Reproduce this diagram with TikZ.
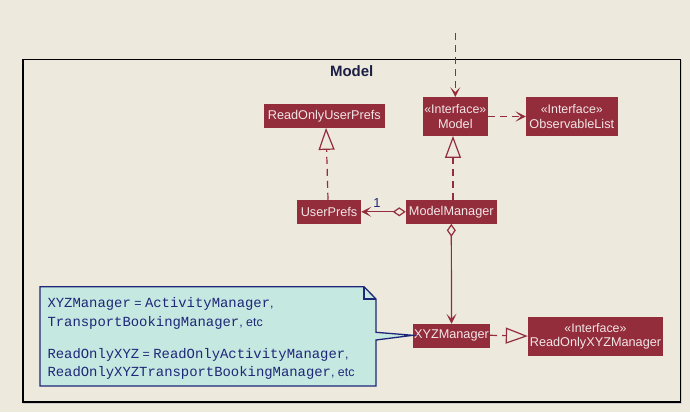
\documentclass[tikz,border=0pt]{standalone}
\usepackage{fontspec}
\setmainfont{Liberation Sans}
\newfontfamily\notemono{Liberation Mono}
\usetikzlibrary{arrows.meta}
\definecolor{bg}{HTML}{EDE9DC}
\definecolor{cls}{HTML}{932C3B}
\definecolor{clstext}{HTML}{F2E6E6}
\definecolor{notefill}{HTML}{C5E8E1}
\definecolor{navy}{HTML}{1F2778}
\definecolor{titlec}{HTML}{1B1F45}
\tikzset{
  classbox/.style={fill=cls, text=clstext, inner sep=0pt, align=center,
    font=\fontsize{12.7}{14.7}\selectfont},
  link/.style={draw=cls, line width=1.2pt},
  dashlink/.style={link, dash pattern=on 7pt off 5pt},
  vtip/.tip={Stealth[length=10pt,width=10pt,inset=5pt]},
  tri/.tip={Triangle[length=22pt,width=16pt,fill=bg]},
  dia/.tip={Diamond[length=13pt,width=9pt,fill=bg]},
  notetext/.style={anchor=base west, inner sep=0pt, text=navy,
    font=\fontsize{12.4}{14}\selectfont},
}
\newcommand{\iface}{{\fontsize{12.4}{14}\selectfont «Interface»}}
\begin{document}
\begin{tikzpicture}[x=1pt,y=-1pt]
\useasboundingbox (0,0) rectangle (690,412);
\fill[bg] (0,0) rectangle (690,412);
% package frame
\draw[gray!40, line width=1.5pt] (24,60.5) rectangle (681.5,403);
\draw[black, line width=1.6pt, fill=bg] (23,59.5) rectangle (680.5,402);
\node[font=\fontsize{15}{18}\selectfont\bfseries, text=titlec, inner sep=0pt] (title) at (351.7,71) {Model};
% classes
\node[classbox, minimum width=120.7pt, minimum height=23.7pt] (ROUP) at (324.3,115.8) {ReadOnlyUserPrefs};
\node[classbox, minimum width=64.7pt, minimum height=38.4pt] (Model) at (455.3,116.5) {\iface\\Model};
\node[classbox, minimum width=91.7pt, minimum height=38.4pt] (OL) at (571.8,116.5) {\iface\\ObservableList};
\node[classbox, minimum width=64pt, minimum height=23.7pt] (UP) at (329,211.8) {UserPrefs};
\node[classbox, minimum width=90.7pt, minimum height=23.7pt] (MM) at (451.3,211.8) {ModelManager};
\node[classbox, minimum width=77pt, minimum height=23.7pt] (XYZ) at (451.5,335.8) {XYZManager};
\node[classbox, minimum width=135pt, minimum height=38.7pt] (ROXYZ) at (595.5,336.3) {\iface\\ReadOnlyXYZManager};
% connectors
\coordinate (ext) at (455.3,33);
\draw[dashlink, -vtip] (ext) -- (Model.north);
\draw[dashlink, -vtip] (Model.east) -- (OL.west);
\draw[dashlink, -tri] ([xshift=-1pt]UP.north) -- ([xshift=1.7pt]ROUP.south);
\draw[dashlink, -tri] ([xshift=1.7pt]MM.north) -- ([xshift=-2.3pt]Model.south);
\draw[link, dia-vtip] (MM.west) -- (UP.east);
\node[text=navy, inner sep=0pt, font=\fontsize{13}{15}\selectfont] (one) at (377,203) {1};
\draw[link, dia-vtip] (MM.south) -- (XYZ.north);
\draw[dashlink, -tri] ([yshift=0.5pt]XYZ.east) -- ([yshift=0.2pt]ROXYZ.west);
% note
\draw[navy, line width=1.3pt, fill=notefill, line join=miter]
  (40,286.7) -- (364,286.7) -- (376,299) -- (376,332.3) -- ([yshift=0.5pt]XYZ.west)
  -- (376,340) -- (376,386) -- (40,386) -- cycle;
\draw[navy, line width=1.3pt] (364,286.7) -- (364,299) -- (376,299);
\node[notetext] (n1) at (47.3,307.8) {{\notemono\fontsize{13.9}{14}\selectfont XYZManager} = {\notemono\fontsize{13.9}{14}\selectfont ActivityManager},};
\node[notetext] (n2) at (47.3,326.2) {{\notemono\fontsize{13.9}{14}\selectfont TransportBookingManager}, etc};
\node[notetext] (n3) at (47.3,358.5) {{\notemono\fontsize{13.9}{14}\selectfont ReadOnlyXYZ} = {\notemono\fontsize{13.9}{14}\selectfont ReadOnlyActivityManager},};
\node[notetext] (n4) at (47.3,376.2) {{\notemono\fontsize{13.9}{14}\selectfont ReadOnlyXYZTransportBookingManager}, etc};
\end{tikzpicture}
\end{document}
